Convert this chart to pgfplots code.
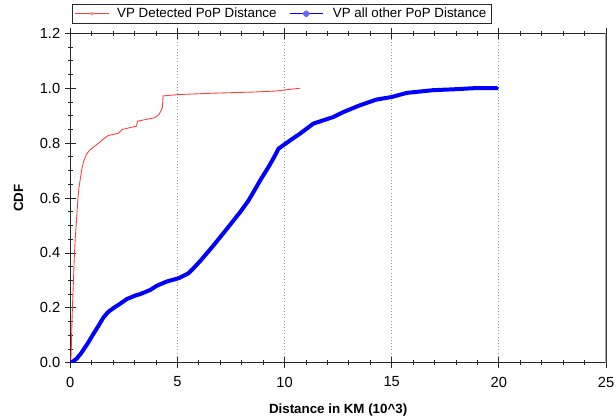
\documentclass[border=0pt]{standalone}
\usepackage{pgfplots}
\pgfplotsset{compat=1.18}
\usepackage{fontspec}
\setmainfont{Liberation Sans}
\usetikzlibrary{calc}

\definecolor{detred}{RGB}{255,60,60}
\definecolor{otherblue}{RGB}{0,0,255}
\definecolor{spine}{RGB}{40,40,40}

\begin{document}
\begin{tikzpicture}
\begin{axis}[
  scale only axis,
  width=401.8pt, height=247.05pt,
  xmin=0, xmax=25, ymin=0, ymax=1.2,
  xtick={0,5,10,15,20,25},
  ytick={0,0.2,0.4,0.6,0.8,1.0,1.2},
  minor x tick num=4, minor y tick num=3,
  tick align=center,
  major tick length=8pt, minor tick length=4pt,
  xtick pos=both, ytick pos=left,
  axis line style={spine, line width=0.6pt},
  every tick/.style={spine, line width=0.6pt},
  xmajorgrids,
  major x grid style={gray!80, dotted, line width=0.6pt},
  /pgf/number format/assume math mode=true,
  tick label style={font=\fontsize{11}{13}\selectfont},
  xticklabel style={yshift=-3pt},
  yticklabel style={/pgf/number format/.cd, fixed, fixed zerofill, precision=1},
  xlabel={\textbf{Distance in KM (10\textasciicircum 3)}},
  ylabel={\textbf{CDF}},
  label style={font=\fontsize{12}{14}\selectfont},
  every axis x label/.style={at={(axis description cs:0.5,-0.1437)}, anchor=center},
  every axis y label/.style={at={(axis description cs:-0.0967,0.5)}, anchor=center, rotate=90},
  legend columns=2,
  legend style={
    at={(0,1)}, anchor=south west, yshift=7pt, xshift=1pt,
    draw=spine, line width=0.6pt,
    font=\fontsize{10}{12}\selectfont,
    inner xsep=2pt, inner ysep=1pt,
    /tikz/every even column/.append style={column sep=8pt},
  },
]

% empirical CDF of distances to the detected PoP
\addplot[color=detred, line width=0.65pt, line join=round,
  legend image code/.code={
    \draw[detred, line width=0.6pt] (0cm,0cm) -- (0.9cm,0cm);
    \fill[detred!60] (0.45cm,0cm) circle (1pt);
    \path (1.03cm,0cm);
  }] coordinates {
  (0.03,0.005) (0.05,0.056) (0.08,0.15) (0.10,0.20) (0.15,0.30)
  (0.18,0.37) (0.23,0.45) (0.30,0.53) (0.36,0.60) (0.41,0.64)
  (0.49,0.68) (0.55,0.71) (0.63,0.735) (0.76,0.76) (0.91,0.775)
  (1.08,0.785) (1.32,0.80) (1.55,0.815) (1.78,0.828) (2.25,0.836)
  (2.43,0.85) (3.09,0.862) (3.14,0.88) (3.95,0.893) (4.15,0.905)
  (4.30,0.93) (4.33,0.972) (5.06,0.977) (6.68,0.982) (8.51,0.986)
  (9.62,0.99) (10.13,0.995) (10.73,1.0)
};
\addlegendentry{VP Detected PoP Distance}

% empirical CDF of distances to all other PoPs
\addplot[color=otherblue, line width=3pt, line join=round, line cap=round,
  legend image code/.code={
    \draw[otherblue, line width=0.6pt] (0cm,0cm) -- (0.85cm,0cm);
    \fill[otherblue!60] (0.42cm,0cm) circle (1pt);
    \path (1.0cm,0cm);
  }] coordinates {
  (0.00,0.0) (0.10,0.003) (0.30,0.015) (0.51,0.035) (0.81,0.07)
  (1.08,0.105) (1.32,0.135) (1.55,0.165) (1.77,0.185) (2.03,0.20)
  (2.33,0.215) (2.64,0.232) (3.04,0.245) (3.26,0.25) (3.73,0.265)
  (4.05,0.281) (4.51,0.296) (5.06,0.308) (5.52,0.326) (5.82,0.35)
  (6.08,0.372) (6.68,0.427) (7.31,0.488) (7.93,0.549) (8.31,0.59)
  (8.61,0.63) (8.86,0.664) (9.25,0.713) (9.52,0.75) (9.72,0.78)
  (10.26,0.81) (10.73,0.835) (11.34,0.871) (12.27,0.895) (12.74,0.913)
  (13.52,0.938) (14.30,0.959) (15.00,0.968) (15.70,0.983) (16.94,0.993)
  (17.87,0.996) (18.80,1.0) (19.90,1.0)
};
\addlegendentry{VP all other PoP Distance\hspace{9pt}}

% lighter right-hand frame line
\draw[gray!70, line width=0.8pt] (rel axis cs:1,0) -- (rel axis cs:1,1);
\end{axis}
\pgfresetboundingbox
\path ($(current axis.south west)+(-52.7pt,-42.2pt)$) rectangle ($(current axis.north east)+(7.5pt,25pt)$);
\end{tikzpicture}
\end{document}
